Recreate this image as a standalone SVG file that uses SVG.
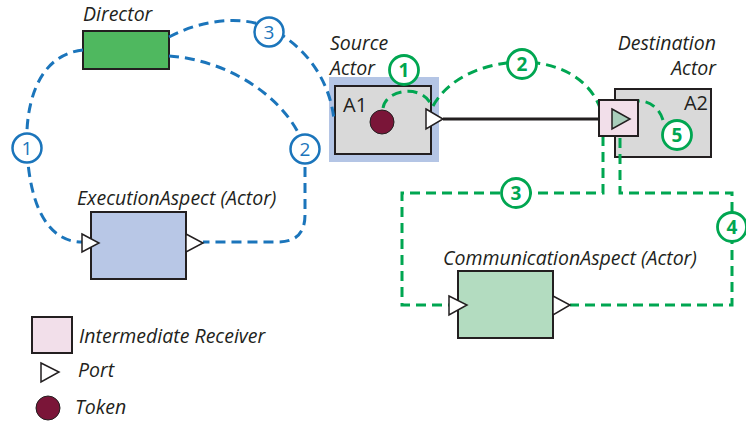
<svg xmlns="http://www.w3.org/2000/svg" width="746" height="424" viewBox="0 0 746 424">
  <style>
    .lbl { font-family: "Open Sans", "Liberation Sans", sans-serif; font-style: italic; font-size: 19.5px; fill: #231f20; }
    .name { font-family: "Open Sans", "Liberation Sans", sans-serif; font-size: 20px; fill: #231f20; }
    .box { stroke: #231f20; stroke-width: 2; }
    .port { fill: #ffffff; stroke: #231f20; stroke-width: 1.5; stroke-linejoin: miter; }
    .blue { fill: none; stroke: #1b75bb; stroke-width: 3; stroke-dasharray: 10 6; }
    .green { fill: none; stroke: #00a651; stroke-width: 3; stroke-dasharray: 10 6; }
    .bc { fill: #ffffff; stroke: #1b75bb; stroke-width: 2.5; }
    .gc { fill: #ffffff; stroke: #00a651; stroke-width: 2.8; }
    .bn { font-family: "Open Sans", "Liberation Sans", sans-serif; font-size: 19px; fill: #1b75bb; text-anchor: middle; }
    .gn { font-family: "Open Sans", "Liberation Sans", sans-serif; font-size: 19px; font-weight: bold; fill: #00a651; text-anchor: middle; }
    .token { fill: #7a1538; stroke: #231f20; stroke-width: 1; }
    .recv { fill: #f2dfea; stroke: #231f20; stroke-width: 2; }
  </style>

  <!-- Source actor (highlighted) -->
  <g id="source-actor">
    <rect x="329" y="77" width="110" height="85" fill="#b4c5e5"/>
    <rect class="box" x="335" y="86" width="96" height="68" fill="#d9d9d9"/>
    <text class="name" x="343" y="112">A1</text>
    <circle class="token" cx="382" cy="122" r="12"/>
    <text class="lbl" x="330" y="50">Source</text>
    <text class="lbl" x="330" y="75">Actor</text>
  </g>

  <!-- Destination actor with its receiver -->
  <g id="destination-actor">
    <rect class="box" x="615" y="89" width="96" height="68" fill="#d9d9d9"/>
    <text class="name" x="708" y="110" text-anchor="end">A2</text>
    <text class="lbl" x="716" y="50" text-anchor="end">Destination</text>
    <text class="lbl" x="716" y="75" text-anchor="end">Actor</text>
  </g>

  <!-- Director -->
  <g id="director">
    <rect class="box" x="83" y="31" width="86" height="38" fill="#4fb85f"/>
    <text class="lbl" x="83" y="21">Director</text>
  </g>

  <!-- Execution aspect -->
  <g id="execution-aspect">
    <rect class="box" x="91" y="212" width="95" height="67" fill="#b8c7e6"/>
    <text class="lbl" x="77" y="205">ExecutionAspect (Actor)</text>
  </g>

  <!-- Communication aspect -->
  <g id="communication-aspect">
    <rect class="box" x="458" y="271" width="95" height="67" fill="#b3dcc0"/>
    <text class="lbl" x="443" y="265">CommunicationAspect (Actor)</text>
  </g>

  <!-- Connectors -->
  <g id="connectors">
    <!-- blue: execution flow -->
    <path class="blue" d="M83,50 C35,55 25,110 27,148 C29,200 45,242 82,242"/>
    <path class="blue" d="M169,37 C205,18 245,16 269,28 C305,45 330,80 334,120"/>
    <path class="blue" d="M169,56 C230,60 290,100 305,149 L305,215 Q305,242 278,242 L203,242"/>
    <!-- green: communication flow -->
    <path class="green" d="M383,108 C386,88 425,84 432,107"/>
    <path class="green" d="M433,106 C450,75 490,62 522,62 C560,62 590,80 600,108"/>
    <path class="green" d="M620,115 C625,96 655,95 663,120"/>
    <path class="green" d="M603,136 L603,193 L402,193 L402,305 L449,305"/>
    <path class="green" d="M620,122 L620,193 L732,193 L732,305 L570,305"/>
    <!-- token transfer link -->
    <line x1="443" y1="119" x2="628" y2="119" stroke="#231f20" stroke-width="3"/>
  </g>

  <!-- Receiver and ports -->
  <g id="receiver">
    <rect class="recv" x="599" y="100" width="39" height="36"/>
  </g>
  <g id="ports">
    <polygon class="port" points="426,109 443,119 426,129"/>
    <polygon points="612,109 630,119 612,129" fill="#00a651" fill-opacity="0.3" stroke="#231f20" stroke-width="1.5"/>
    <polygon class="port" points="82,234 99,243 82,252"/>
    <polygon class="port" points="186,234 203,243 186,252"/>
    <polygon class="port" points="449,296 467,305 449,315"/>
    <polygon class="port" points="553,296 570,305 553,315"/>
  </g>

  <!-- Step markers -->
  <g id="blue-steps">
    <circle class="bc" cx="27" cy="148" r="14.5"/><text class="bn" x="27" y="155">1</text>
    <circle class="bc" cx="305" cy="149" r="14.5"/><text class="bn" x="305" y="156">2</text>
    <circle class="bc" cx="269" cy="32" r="14.5"/><text class="bn" x="269" y="39">3</text>
  </g>
  <g id="green-steps">
    <circle class="gc" cx="404" cy="70" r="14.5"/><text class="gn" x="404" y="77">1</text>
    <circle class="gc" cx="522" cy="64" r="14.5"/><text class="gn" x="522" y="71">2</text>
    <circle class="gc" cx="516" cy="193" r="14.5"/><text class="gn" x="516" y="200">3</text>
    <circle class="gc" cx="732" cy="227" r="14.5"/><text class="gn" x="732" y="234">4</text>
    <circle class="gc" cx="677" cy="135" r="14.5"/><text class="gn" x="677" y="142">5</text>
  </g>

  <!-- Legend -->
  <g id="legend">
    <rect class="recv" x="32" y="317" width="40" height="36"/>
    <text class="lbl" x="79" y="343">Intermediate Receiver</text>
    <polygon class="port" points="41,363 59,372 41,382"/>
    <text class="lbl" x="78" y="377">Port</text>
    <circle class="token" cx="48" cy="408" r="12"/>
    <text class="lbl" x="75" y="414">Token</text>
  </g>
</svg>
